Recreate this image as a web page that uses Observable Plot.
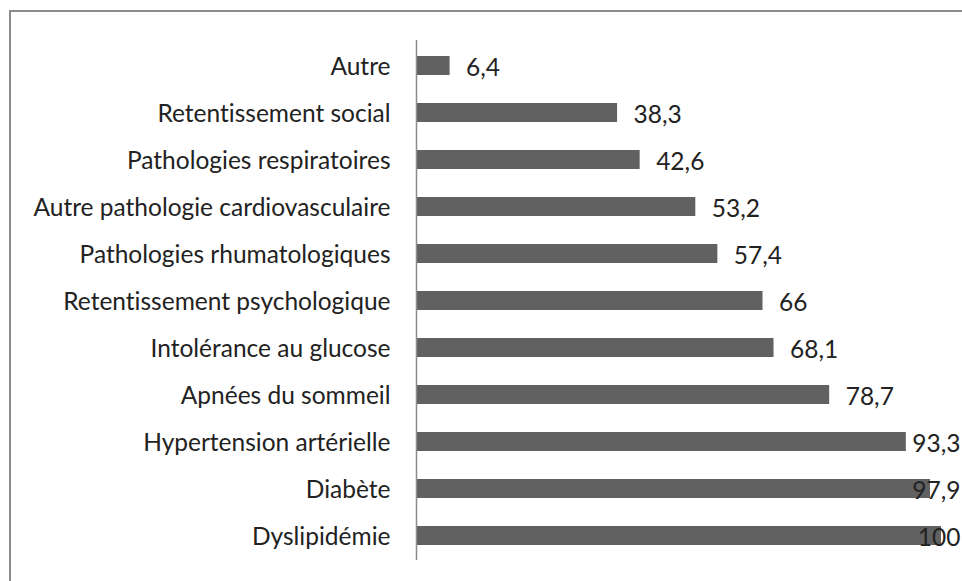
<!DOCTYPE html>
<html>
<head>
<meta charset="utf-8">
<script src="https://cdn.jsdelivr.net/npm/d3@7"></script>
<script src="https://cdn.jsdelivr.net/npm/@observablehq/plot@0.6"></script>
<style>
  html, body { margin: 0; padding: 0; background: #fff; overflow: hidden; }
  #wrap { position: relative; width: 962px; height: 581px; overflow: hidden; }
  #border { position: absolute; left: 9px; top: 10px; width: 1000px; height: 700px;
            border: 2px solid #8c8c8c; box-sizing: border-box; }
  #chart { position: absolute; left: 0; top: 0; }
  #chart svg text { font-variant-ligatures: none; }
</style>
</head>
<body>
<div id="wrap"><div id="border"></div><div id="chart"></div></div>
<script>
const categories = [
  "Autre",
  "Retentissement social",
  "Pathologies respiratoires",
  "Autre pathologie cardiovasculaire",
  "Pathologies rhumatologiques",
  "Retentissement psychologique",
  "Intolérance au glucose",
  "Apnées du sommeil",
  "Hypertension artérielle",
  "Diabète",
  "Dyslipidémie"
];
const values = [6.4, 38.3, 42.6, 53.2, 57.4, 66, 68.1, 78.7, 93.3, 97.9, 100];
const labels = ["6,4", "38,3", "42,6", "53,2", "57,4", "66", "68,1", "78,7", "93,3", "97,9", "100"];

const data = categories.map((c, i) => ({category: c, value: values[i], label: labels[i]}));
const fits = data.filter(d => d.value < 90);
const overflow = data.filter(d => d.value >= 90);

const font = "Lato, 'Open Sans', sans-serif";
const fs = 24.5;

const chart = Plot.plot({
  width: 962,
  height: 581,
  marginLeft: 416,
  marginRight: 21,
  marginTop: 40,
  marginBottom: 21,
  style: {fontFamily: font, fontSize: fs + "px", color: "#222", background: "transparent", overflow: "visible"},
  x: {domain: [0, 100], axis: null},
  y: {domain: categories, paddingInner: 0.6, paddingOuter: 0.3, axis: null},
  marks: [
    Plot.barX(data, {y: "category", x: "value", fill: "#616161"}),
    Plot.ruleX([0], {stroke: "#8c8c8c", strokeWidth: 1.5}),
    Plot.text(data, {y: "category", text: "category", frameAnchor: "left", textAnchor: "end",
                     dx: -26, dy: 1, fill: "#222", fontSize: fs}),
    Plot.text(fits, {y: "category", x: "value", text: "label", textAnchor: "start",
                     dx: 16, dy: 2, fill: "#222", fontSize: fs}),
    Plot.text(overflow, {y: "category", text: "label", frameAnchor: "right", textAnchor: "end",
                     dx: 19, dy: 2, fill: "#222", fontSize: fs})
  ]
});
document.getElementById("chart").appendChild(chart);
</script>
</body>
</html>
